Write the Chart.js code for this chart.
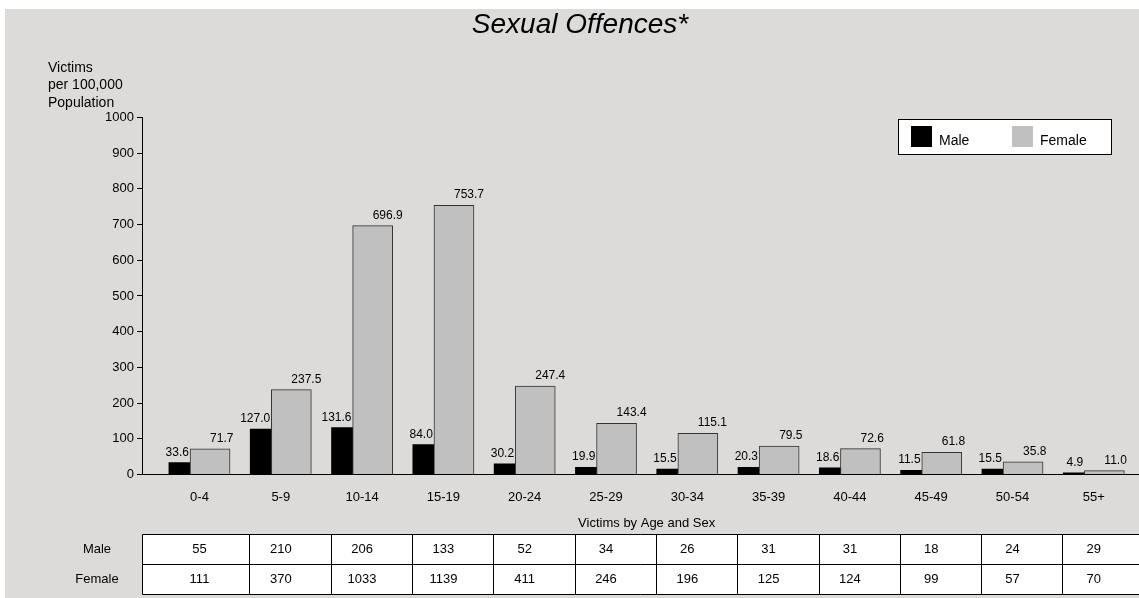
<!DOCTYPE html>
<html>
<head>
<meta charset="utf-8">
<script src="https://cdn.jsdelivr.net/npm/chart.js@4/dist/chart.umd.min.js"></script>
<style>
html,body{margin:0;padding:0;background:#fff;}
#wrap{width:1139px;height:598px;position:relative;}
</style>
</head>
<body>
<div id="wrap"><canvas id="c" width="1139" height="598"></canvas></div>
<script>
// ---- data ----
const titleText = 'Sexual Offences*';
const yAxisTitle = ['Victims', 'per 100,000', 'Population'];
const tableTitle = 'Victims by Age and Sex';
const ageGroups = ['0-4','5-9','10-14','15-19','20-24','25-29','30-34','35-39','40-44','45-49','50-54','55+'];
const maleRates = [33.6, 127.0, 131.6, 84.0, 30.2, 19.9, 15.5, 20.3, 18.6, 11.5, 15.5, 4.9];
const femaleRates = [71.7, 237.5, 696.9, 753.7, 247.4, 143.4, 115.1, 79.5, 72.6, 61.8, 35.8, 11.0];
const maleCounts = [55, 210, 206, 133, 52, 34, 26, 31, 31, 18, 24, 29];
const femaleCounts = [111, 370, 1033, 1139, 411, 246, 196, 125, 124, 99, 57, 70];
const yTicks = [0, 100, 200, 300, 400, 500, 600, 700, 800, 900, 1000];

// ---- style ----
const FONT = '"Liberation Sans", Arial, Helvetica, sans-serif';
const BG = '#dcdbda';
const FEMALE_FILL = '#c0c0c0';
const BAR_SHIFT = 0.13;   // half offset between overlapping bars (category units)

const bgPlugin = {
  id: 'bg',
  beforeDraw(chart) {
    const ctx = chart.ctx;
    ctx.save();
    ctx.fillStyle = '#ffffff';
    ctx.fillRect(0, 0, chart.width, chart.height);
    ctx.fillStyle = BG;
    ctx.fillRect(5, 9, chart.width - 5, chart.height - 9);
    ctx.restore();
  }
};

const valueLabelPlugin = {
  id: 'valueLabels',
  afterDatasetsDraw(chart) {
    const ctx = chart.ctx;
    ctx.save();
    ctx.font = '12px ' + FONT;
    ctx.fillStyle = '#000';
    ctx.textBaseline = 'alphabetic';
    chart.data.datasets.forEach((ds, di) => {
      const meta = chart.getDatasetMeta(di);
      ctx.textAlign = ds.labelAlign;
      meta.data.forEach((el, i) => {
        const v = ds.data[i].y;
        ctx.fillText(v.toFixed(1), el.x, el.y - 7);
      });
    });
    ctx.restore();
  }
};

const extrasPlugin = {
  id: 'extras',
  afterDraw(chart) {
    const ctx = chart.ctx;
    const xs = chart.scales.x;
    const area = chart.chartArea;
    ctx.save();
    // y axis title
    ctx.fillStyle = '#000';
    ctx.font = '14px ' + FONT;
    ctx.textAlign = 'left';
    ctx.textBaseline = 'middle';
    yAxisTitle.forEach((t, k) => ctx.fillText(t, 48, 68 + k * 17.5));

    // legend
    const lx = 898.5, ly = 119.5, lw = 213, lh = 35;
    ctx.fillStyle = '#fff';
    ctx.fillRect(lx, ly, lw, lh);
    ctx.strokeStyle = '#000';
    ctx.lineWidth = 1;
    ctx.strokeRect(lx, ly, lw, lh);
    const items = [
      {x: 911, ds: chart.data.datasets[0]},
      {x: 1012, ds: chart.data.datasets[1]}
    ];
    ctx.font = '14px ' + FONT;
    items.forEach(it => {
      ctx.fillStyle = it.ds.backgroundColor;
      ctx.fillRect(it.x, 126, 21, 21);
      ctx.fillStyle = '#000';
      ctx.textAlign = 'left';
      ctx.fillText(it.ds.label, it.x + 28, 141);
    });

    // table title
    const c0 = xs.getPixelForValue(0), cN = xs.getPixelForValue(ageGroups.length - 1);
    ctx.font = '13px ' + FONT;
    ctx.textAlign = 'center';
    ctx.fillStyle = '#000';
    ctx.fillText(tableTitle, (c0 + cN) / 2, area.bottom + 48.5);

    // table
    const top = Math.round(area.bottom + 59) + 0.5;
    const rh = 30;
    const left = Math.round(area.left) + 0.5;
    const right = chart.width;
    ctx.fillStyle = '#fff';
    ctx.fillRect(left, top, right - left, rh * 2);
    ctx.strokeStyle = '#000';
    ctx.beginPath();
    for (let r = 0; r <= 2; r++) {
      ctx.moveTo(left, top + r * rh);
      ctx.lineTo(right, top + r * rh);
    }
    ctx.moveTo(left, top);
    ctx.lineTo(left, top + 2 * rh);
    for (let i = 0; i < ageGroups.length - 1; i++) {
      const bx = Math.round(xs.getPixelForValue(i + 0.615)) + 0.5;
      ctx.moveTo(bx, top);
      ctx.lineTo(bx, top + 2 * rh);
    }
    ctx.stroke();
    ctx.fillStyle = '#000';
    ctx.font = '13px ' + FONT;
    ctx.textAlign = 'center';
    ctx.textBaseline = 'middle';
    const rows = [
      {name: chart.data.datasets[0].label, vals: maleCounts},
      {name: chart.data.datasets[1].label, vals: femaleCounts}
    ];
    rows.forEach((row, r) => {
      const cy = top + r * rh + rh / 2;
      ctx.fillText(row.name, 97, cy);
      row.vals.forEach((v, i) => ctx.fillText(String(v), xs.getPixelForValue(i), cy));
    });
    ctx.restore();
  }
};

const chart = new Chart(document.getElementById('c'), {
  type: 'bar',
  data: {
    datasets: [
      {
        label: 'Male',
        data: maleRates.map((v, i) => ({x: i - BAR_SHIFT, y: v})),
        backgroundColor: '#000000',
        borderWidth: 0,
        grouped: false,
        barThickness: 40,
        order: 1,
        labelAlign: 'right'
      },
      {
        label: 'Female',
        data: femaleRates.map((v, i) => ({x: i + BAR_SHIFT, y: v})),
        backgroundColor: FEMALE_FILL,
        borderColor: '#333333',
        borderWidth: 1,
        grouped: false,
        barThickness: 40,
        order: 0,
        labelAlign: 'left'
      }
    ]
  },
  options: {
    responsive: false,
    animation: false,
    devicePixelRatio: 1,
    layout: {padding: {left: 21, right: 0, top: 0, bottom: 0}},
    plugins: {
      legend: {display: false},
      tooltip: {enabled: false},
      title: {
        display: true,
        text: titleText,
        color: '#000',
        font: {family: FONT, size: 28, style: 'italic', weight: 'normal', lineHeight: 1.2},
        padding: {top: 8.4, bottom: 75.4}
      }
    },
    scales: {
      x: {
        type: 'linear',
        bounds: 'data',
        offset: false,
        min: -0.707,
        max: 11.556,
        afterBuildTicks: (s) => { s.ticks = ageGroups.map((_, i) => ({value: i})); },
        afterFit: (s) => { s.height = 123.5; },
        ticks: {
          callback: (v) => ageGroups[v] !== undefined ? ageGroups[v] : '',
          color: '#000',
          font: {family: FONT, size: 13},
          padding: 15,
          autoSkip: false,
          maxRotation: 0
        },
        grid: {offset: false, drawOnChartArea: false, drawTicks: false},
        border: {display: true, color: '#000', width: 1}
      },
      y: {
        min: 0,
        max: 1000,
        afterBuildTicks: (s) => { s.ticks = yTicks.map(v => ({value: v})); },
        afterFit: (s) => { s.width = 121; },
        ticks: {
          callback: (v) => String(v),
          color: '#000',
          font: {family: FONT, size: 13},
          padding: 3
        },
        grid: {drawOnChartArea: false, drawTicks: true, tickLength: 5, tickColor: '#000'},
        border: {display: true, color: '#000', width: 1}
      }
    }
  },
  plugins: [bgPlugin, valueLabelPlugin, extrasPlugin]
});
</script>
</body>
</html>
